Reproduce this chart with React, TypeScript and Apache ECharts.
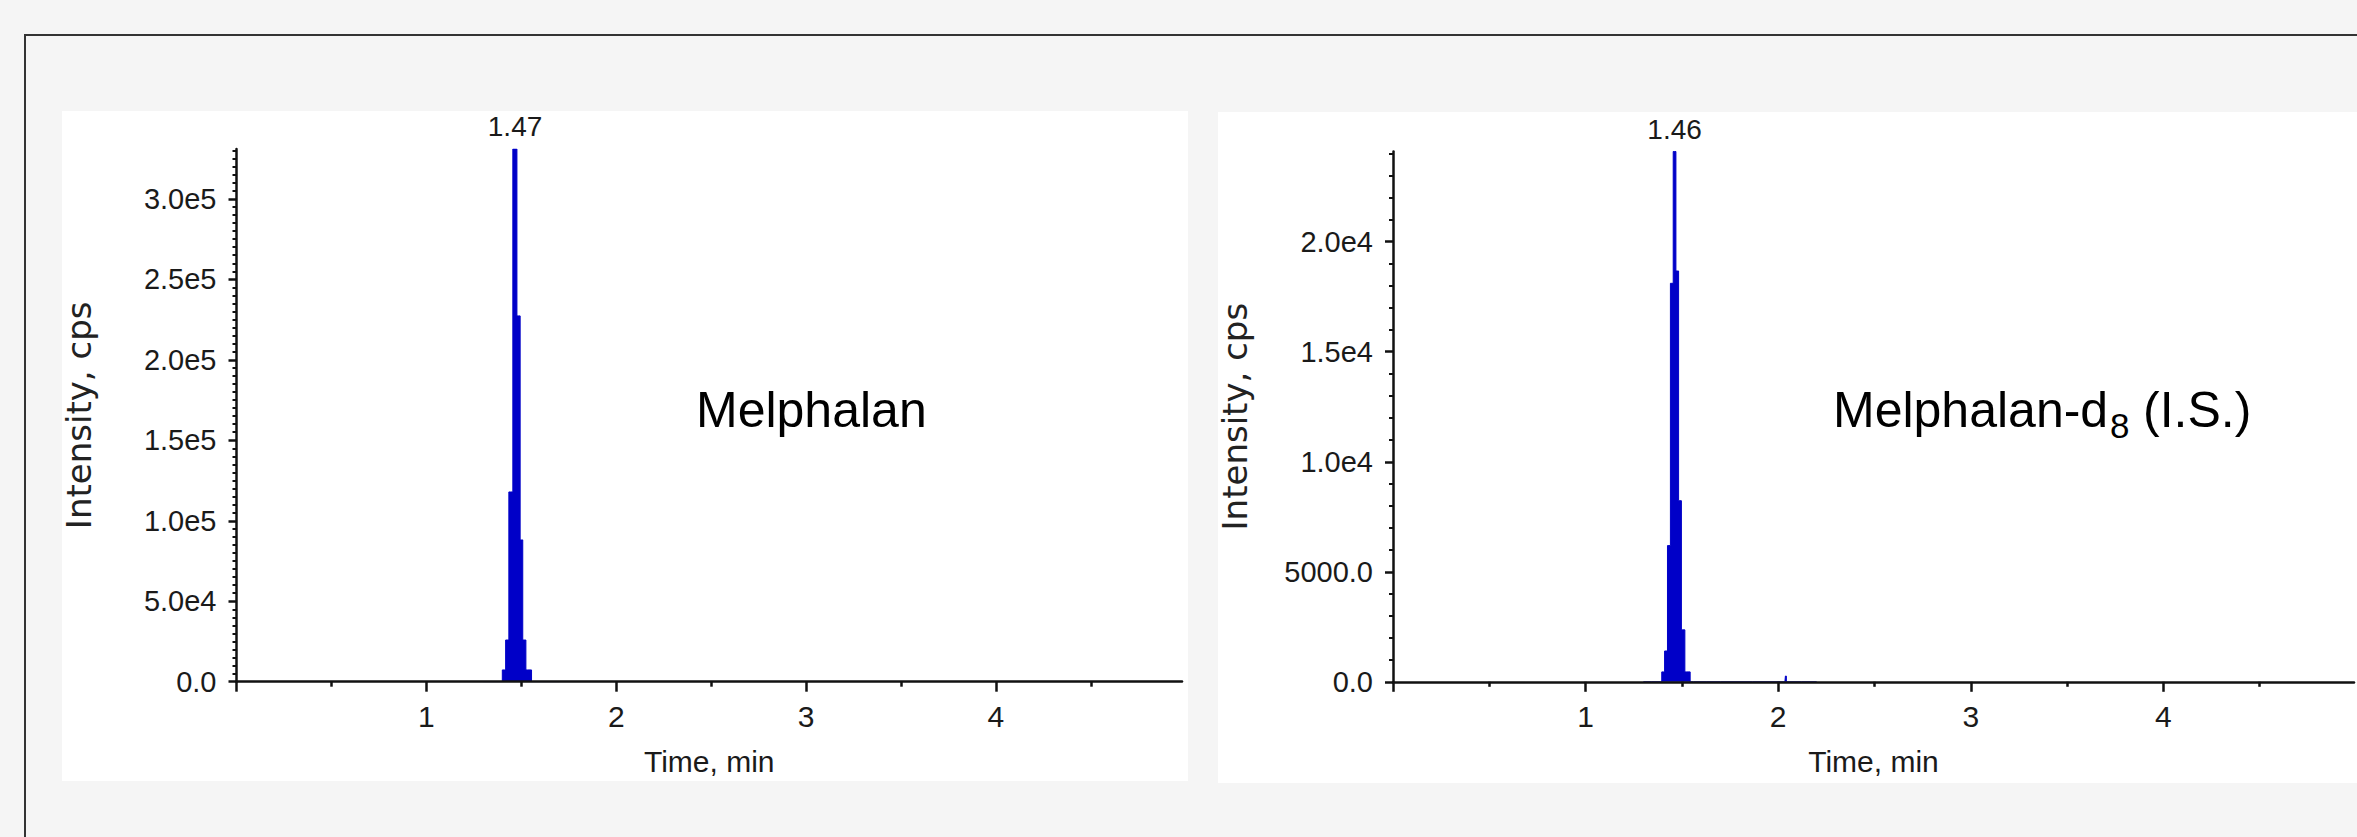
import React, { useEffect, useRef } from 'react';
import * as echarts from 'echarts';

const W = 2357;
const H = 837;

// Melphalan trace: retention time (min) and intensity (cps)
const melTimes = [1.3, 1.39, 1.41, 1.425, 1.444, 1.467, 1.487, 1.501, 1.5145, 1.534, 1.574, 1.7];
const melValues = [0, 0, 7300, 25900, 117900, 331000, 227300, 88100, 25900, 7300, 0, 0];

// Melphalan-d8 (I.S.) trace
const isTimes = [1.3, 1.388, 1.403, 1.4175, 1.433, 1.448, 1.462, 1.476, 1.49, 1.505, 1.526, 1.56, 1.7, 2.035, 2.04, 2.045, 2.2];
const isValues = [0, 0, 450, 1400, 6190, 18110, 24100, 18670, 8230, 2360, 450, 0, 0, 0, 260, 0, 0];

// Tick positions and labels
const xTickValues = [0, 1, 2, 3, 4];
const xTickLabels = ['', '1', '2', '3', '4'];
const melYTickValues = [0, 50000, 100000, 150000, 200000, 250000, 300000];
const melYTickLabels = ['0.0', '5.0e4', '1.0e5', '1.5e5', '2.0e5', '2.5e5', '3.0e5'];
const isYTickValues = [0, 5000, 10000, 15000, 20000];
const isYTickLabels = ['0.0', '5000.0', '1.0e4', '1.5e4', '2.0e4'];

// Peak apex annotations
const melPeak = { time: 1.467, label: '1.47' };
const isPeak = { time: 1.462, label: '1.46' };

const FONT = '"Liberation Sans", Arial, sans-serif';
const AXIS = '#111111';
const TEXT = '#1a1a1a';
const BLUE = '#0000c8';

function xAxisOpt(gridIndex: number, max: number) {
  return {
    type: 'value',
    gridIndex,
    min: 0,
    max,
    interval: 1,
    z: 5,
    axisLine: { show: true, onZero: false, lineStyle: { color: AXIS, width: 2.5 } },
    axisTick: { show: true, length: 10, customValues: xTickValues, lineStyle: { color: AXIS, width: 2.5 } },
    minorTick: { show: true, splitNumber: 2, length: 5, lineStyle: { color: AXIS, width: 2.5 } },
    splitLine: { show: false },
    minorSplitLine: { show: false },
    axisLabel: {
      margin: 20,
      fontSize: 30,
      fontFamily: FONT,
      color: TEXT,
      showMinLabel: false,
      formatter: (v: number) => {
        const i = xTickValues.indexOf(v);
        return i >= 0 ? xTickLabels[i] : '';
      },
    },
    name: 'Time, min',
    nameLocation: 'middle',
    nameGap: 65,
    nameTextStyle: { fontSize: 30, fontFamily: FONT, color: TEXT },
  };
}

function yAxisOpt(gridIndex: number, max: number, interval: number, minorSplit: number, values: number[], labels: string[]) {
  return {
    type: 'value',
    gridIndex,
    min: 0,
    max,
    interval,
    z: 5,
    axisLine: { show: true, onZero: false, lineStyle: { color: AXIS, width: 2.5 } },
    axisTick: { show: true, length: 8, customValues: values, lineStyle: { color: AXIS, width: 2.5 } },
    minorTick: { show: true, splitNumber: minorSplit, length: 4, lineStyle: { color: AXIS, width: 2 } },
    splitLine: { show: false },
    minorSplitLine: { show: false },
    axisLabel: {
      margin: 20,
      fontSize: 29,
      fontFamily: FONT,
      color: TEXT,
      formatter: (v: number) => {
        const i = values.indexOf(v);
        return i >= 0 ? labels[i] : '';
      },
    },
    name: 'Intensity, cps',
    nameLocation: 'middle',
    nameRotate: 90,
    nameGap: 141,
    nameTextStyle: { fontSize: 34, fontFamily: '"DejaVu Sans", sans-serif', color: '#222222' },
  };
}

function traceSeries(idx: number, times: number[], values: number[], peak: { time: number; label: string }, yMax: number) {
  return {
    type: 'line',
    xAxisIndex: idx,
    yAxisIndex: idx,
    data: times.map((t, i) => [t, values[i]]),
    step: 'middle',
    showSymbol: false,
    symbol: 'none',
    lineStyle: { color: BLUE, width: 1 },
    areaStyle: { color: BLUE, opacity: 1 },
    itemStyle: { color: BLUE },
    z: 2,
    markPoint: {
      symbol: 'circle',
      symbolSize: 1,
      silent: true,
      itemStyle: { color: 'rgba(0,0,0,0)' },
      label: {
        show: true,
        position: 'top',
        distance: 8,
        formatter: '{b}',
        fontSize: 28,
        fontFamily: FONT,
        color: TEXT,
      },
      data: [{ name: peak.label, coord: [peak.time, yMax] }],
    },
  };
}

export default function App() {
  const ref = useRef<HTMLDivElement>(null);

  useEffect(() => {
    if (!ref.current) return;
    const chart = echarts.init(ref.current, null, { renderer: 'svg', width: W, height: H });
    const melMax = 331000;
    const isMax = 24100;
    chart.setOption({
      animation: false,
      backgroundColor: '#f5f5f5',
      graphic: [
        { type: 'rect', z: -20, shape: { x: 25, y: 35, width: 2500, height: 1000 }, style: { fill: 'none', stroke: '#333333', lineWidth: 2 } },
        { type: 'rect', z: -10, shape: { x: 62, y: 111, width: 1126, height: 670 }, style: { fill: '#ffffff' } },
        { type: 'rect', z: -10, shape: { x: 1218, y: 112, width: 1200, height: 671 }, style: { fill: '#ffffff' } },
        { type: 'text', z: 10, x: 696, y: 409.7, style: { text: 'Melphalan', fontSize: 50, fontFamily: FONT, fill: '#000', align: 'left', verticalAlign: 'middle' } },
        { type: 'text', z: 10, x: 1833, y: 409.7, style: { text: 'Melphalan-d', fontSize: 50, fontFamily: FONT, fill: '#000', align: 'left', verticalAlign: 'middle' } },
        { type: 'text', z: 10, x: 2110, y: 425.9, style: { text: '8', fontSize: 35, fontFamily: FONT, fill: '#000', align: 'left', verticalAlign: 'middle' } },
        { type: 'text', z: 10, x: 2143, y: 409.7, style: { text: '(I.S.)', fontSize: 50, fontFamily: FONT, fill: '#000', align: 'left', verticalAlign: 'middle' } },
      ],
      grid: [
        { left: 236.5, top: 149, width: 945.5, height: 532.7 },
        { left: 1393, top: 151.5, width: 964, height: 530.3 },
      ],
      xAxis: [xAxisOpt(0, 4.98), xAxisOpt(1, 4.99)],
      yAxis: [
        yAxisOpt(0, melMax, 50000, 10, melYTickValues, melYTickLabels),
        yAxisOpt(1, isMax, 5000, 5, isYTickValues, isYTickLabels),
      ],
      series: [
        traceSeries(0, melTimes, melValues, melPeak, melMax),
        traceSeries(1, isTimes, isValues, isPeak, isMax),
      ],
    });
    return () => chart.dispose();
  }, []);

  return <div ref={ref} style={{ position: 'absolute', left: 0, top: 0, width: W, height: H }} />;
}
